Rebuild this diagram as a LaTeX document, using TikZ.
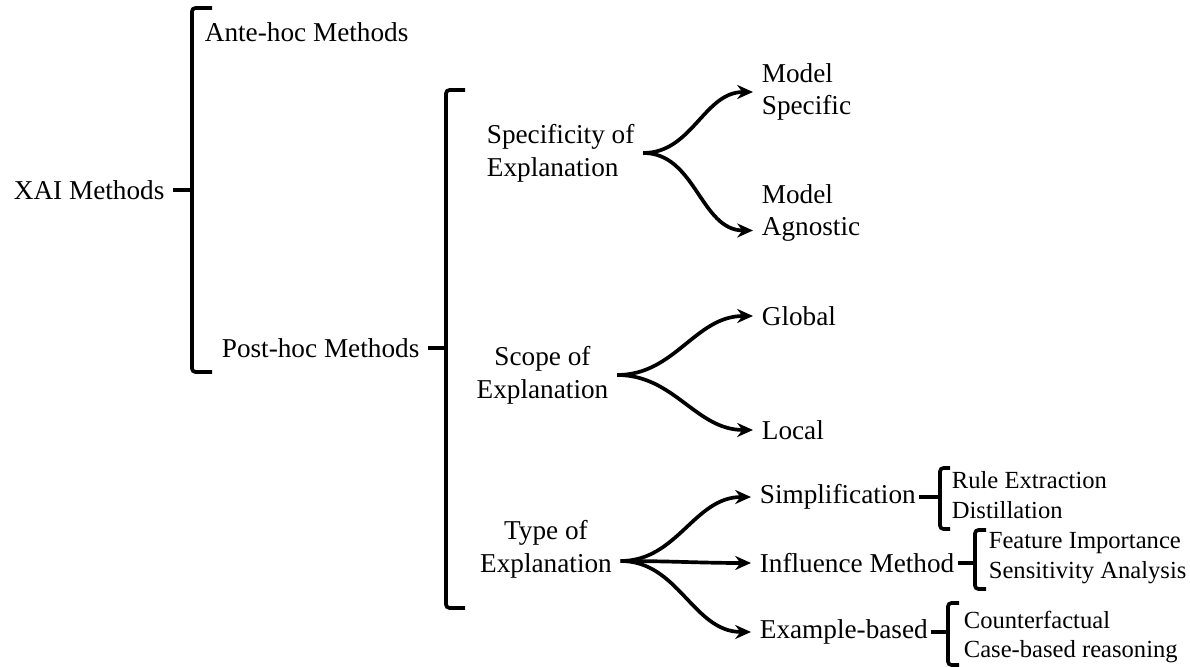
\documentclass[tikz,border=0pt]{standalone}
\usepackage{fontspec}
\setmainfont{Liberation Serif}
\usetikzlibrary{arrows.meta}
\begin{document}
\begin{tikzpicture}[>={Stealth[length=9pt,width=8pt]}, line width=2.1pt,
  lbl/.style={inner sep=4pt, font=\fontsize{15.5}{18.6}\selectfont},
  leaf/.style={inner sep=4pt, align=left, font=\fontsize{14}{16.8}\selectfont},
  brace/.style={rounded corners=2pt}]
\useasboundingbox (0,0) rectangle (23.8,13.34);

\node[lbl,anchor=west] (xai) at (0.10,9.54) {XAI Methods};
\node[lbl,anchor=west] (ante) at (3.92,12.70) {Ante-hoc Methods};
\node[lbl,anchor=west] (post) at (4.26,6.38) {Post-hoc Methods};

\node[lbl,anchor=west,align=left] (spec) at (9.56,10.28) {Specificity of\\Explanation};
\node[lbl,align=center] (scope) at (10.85,5.84) {Scope of\\Explanation};
\node[lbl,align=center] (type) at (10.92,2.36) {Type of\\Explanation};

\node[lbl,anchor=west,align=left] (mspec) at (15.06,11.50) {Model\\Specific};
\node[lbl,anchor=west,align=left] (magn) at (15.06,9.08) {Model\\Agnostic};
\node[lbl,anchor=west] (glob) at (15.06,7.02) {Global};
\node[lbl,anchor=west] (loc) at (15.06,4.74) {Local};
\node[lbl,anchor=west] (simp) at (15.02,3.40) {Simplification};
\node[lbl,anchor=west] (infl) at (15.02,2.08) {Influence Method};
\node[lbl,anchor=west] (exam) at (15.02,0.70) {Example-based};

\node[leaf,anchor=west] (rule) at (18.86,3.44) {Rule Extraction\\Distillation};
\node[leaf,anchor=west] (feat) at (19.60,2.18) {Feature Importance\\Sensitivity Analysis};
\node[leaf,anchor=west] (case) at (19.10,0.60) {Counterfactual\\Case-based reasoning};

\draw[brace] (4.24,13.18) -- (3.84,13.18) -- (3.84,5.90) -- (4.24,5.90);
\draw (xai.east) -- (3.84,9.54);
\draw[brace] (9.30,11.54) -- (8.92,11.54) -- (8.92,1.18) -- (9.30,1.18);
\draw (post.east) -- (8.92,6.38);
\draw[brace] (19.00,3.98) -- (18.80,3.98) -- (18.80,2.76) -- (19.00,2.76);
\draw ([xshift=-3pt]simp.east) -- (18.80,3.40);
\draw[brace] (19.72,2.74) -- (19.50,2.74) -- (19.50,1.56) -- (19.72,1.56);
\draw ([xshift=-3pt]infl.east) -- (19.50,2.08);
\draw[brace] (19.18,1.28) -- (18.96,1.28) -- (18.96,0.04) -- (19.18,0.04);
\draw ([xshift=-3pt]exam.east) -- (18.96,0.70);

\draw[->] (spec.east) to[out=0,in=180] (mspec.west);
\draw[->] (spec.east) to[out=0,in=180] ([yshift=-0.35cm]magn.west);
\draw[->] (scope.east) to[out=0,in=180] (glob.west);
\draw[->] (scope.east) to[out=0,in=180] (loc.west);

\coordinate (tf) at ([yshift=-0.24cm]type.east);
\draw[->] (tf) to[out=0,in=180] (simp.west);
\draw[->] (tf) to[out=0,in=180] (infl.west);
\draw[->] (tf) to[out=0,in=180] (exam.west);
\end{tikzpicture}
\end{document}
